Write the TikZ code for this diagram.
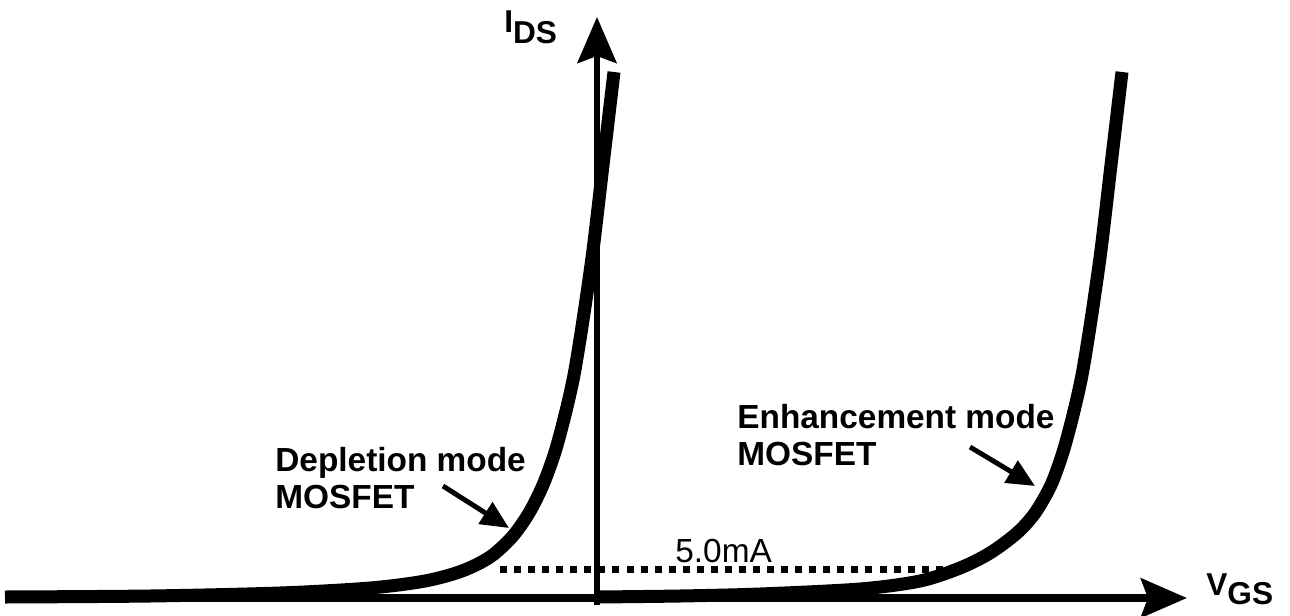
\documentclass[tikz,border=0pt]{standalone}
\usepackage{fontspec}
\setmainfont{Liberation Sans}
\usetikzlibrary{arrows.meta}

\begin{document}
\begin{tikzpicture}[x=0.02cm, y=-0.02cm,
  axis/.style={line width=4.5pt, -{Stealth[length=0.92cm, width=0.78cm, inset=0.14cm]}},
  curve/.style={line width=7.4pt},
  pointer/.style={line width=2.8pt, -{Triangle[length=0.56cm, width=0.5cm]}},
  lbl/.style={font=\bfseries\fontsize{19}{20.5}\selectfont, align=left, anchor=base west, inner sep=0pt},
  axlbl/.style={font=\bfseries\fontsize{18}{20}\selectfont, anchor=base west, inner sep=0pt}]
\useasboundingbox (0,0) rectangle (1290,615);

% Curves
\draw[curve] plot[smooth] coordinates {(5,597) (150,596) (280,593) (370,588) (425,581) (462,571)
  (490,557) (512,537) (529,513) (543,485) (555,452) (565,415) (574,375) (583,320) (593,250)
  (603,165) (614,72)};
\draw[curve] plot[smooth] coordinates {(597,597) (680,596) (760,594) (860,589) (920,581) (960,568)
  (990,553) (1017,533) (1035,513) (1051,485) (1063,452) (1073,415) (1082,375) (1091,320)
  (1101,250) (1111,165) (1122,72)};

% Axes
\coordinate (xstart) at (5,598);
\coordinate (xend) at (1187,598);
\coordinate (ystart) at (597,605);
\coordinate (yend) at (597,17);
\draw[axis] (xstart) -- (xend);
\draw[axis, line width=3.4pt] (ystart) -- (yend);
\node[axlbl] (ids) at (504,33) {I\raisebox{-0.33em}{DS}};
\node[axlbl] (vgs) at (1206,595) {V\raisebox{-0.3em}{GS}};

% 5.0mA level
\coordinate (lvla) at (500,569.5);
\coordinate (lvlb) at (965,569.5);
\draw[line width=4pt, dash pattern=on 4pt off 4pt] (lvla) -- (lvlb);
\node[anchor=base west, inner sep=0pt, font=\fontsize{19}{22}\selectfont] (ma) at (675,562) {5.0mA};

% Labels (base = last line)
\node[lbl] (dep) at (275,508) {Depletion mode\\MOSFET};
\node[lbl] (enh) at (737,465) {Enhancement mode\\MOSFET};
\coordinate (dtail) at (443,486);
\coordinate (dtip) at (509,528);
\coordinate (etail) at (970,447);
\coordinate (etip) at (1035,486);
\draw[pointer] (dtail) -- (dtip);
\draw[pointer] (etail) -- (etip);
\end{tikzpicture}
\end{document}
